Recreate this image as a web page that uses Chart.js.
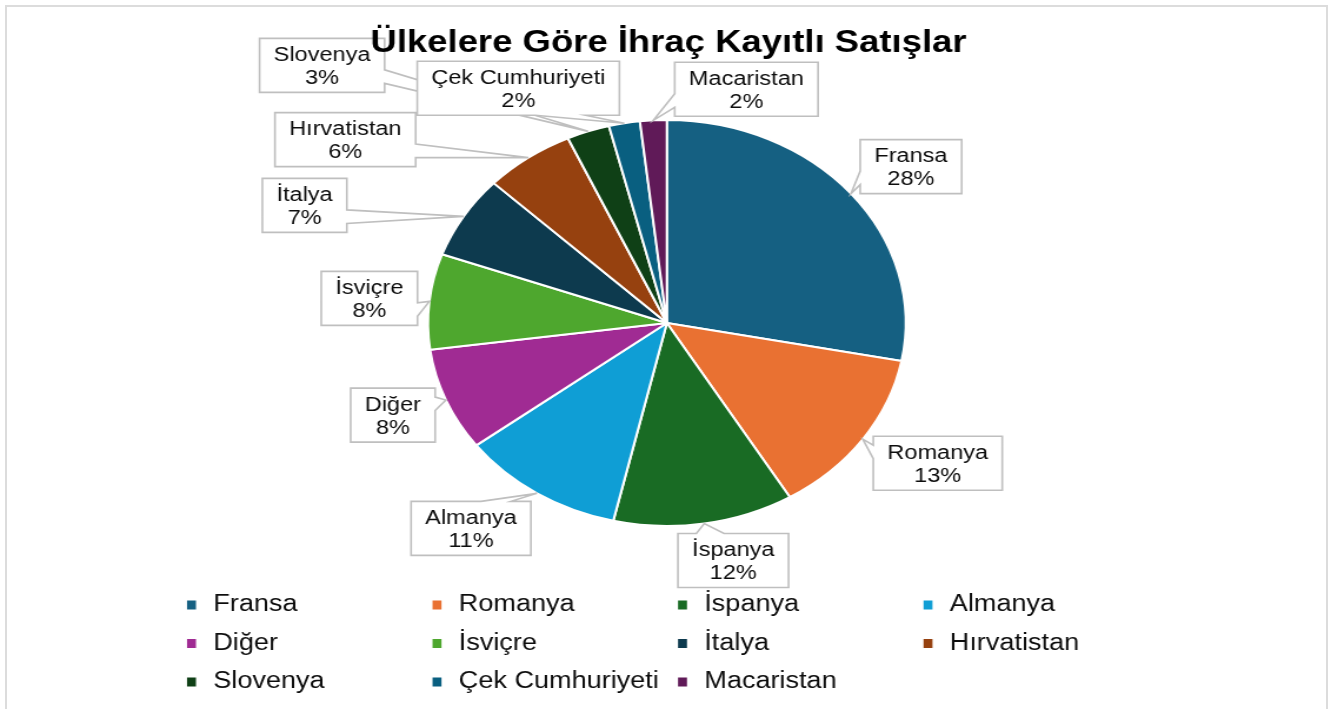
<!DOCTYPE html>
<html>
<head>
<meta charset="utf-8">
<script src="https://cdn.jsdelivr.net/npm/chart.js"></script>
<style>
  html, body { margin: 0; padding: 0; background: #fff; overflow: hidden; }
  #wrap { position: relative; width: 1338px; height: 709px; }
  #frame { position: absolute; left: 5px; top: 5px; width: 1319px; height: 720px;
           border: 2px solid #dcdcdc; border-bottom: none; }
  #chart { position: absolute; left: 0; top: 0; }
</style>
</head>
<body>
<div id="wrap">
  <div id="frame"></div>
  <canvas id="chart" width="1137" height="709" style="width:1338px;height:709px"></canvas>
</div>
<script>
(function () {
  'use strict';

  var title = 'Ülkelere Göre İhraç Kayıtlı Satışlar';
  var countries = ['Fransa', 'Romanya', 'İspanya', 'Almanya', 'Diğer', 'İsviçre',
    'İtalya', 'Hırvatistan', 'Slovenya', 'Çek Cumhuriyeti', 'Macaristan'];
  var shares = [28, 13.4, 12.2, 11.1, 8.2, 7.6, 6.6, 6.1, 2.9, 2.1, 1.8];
  var colors = ['#156082', '#E97132', '#196B24', '#0F9ED5', '#A02B93', '#4EA72E',
    '#0D3A4E', '#96410F', '#0F4016', '#095F80', '#601A58'];

  // where each callout box sits relative to its slice tip (picture px)
  var calloutOffsets = [[60, -27], [75, 24], [29, 37], [-66, 35], [-53, 15], [-60, -3],
    [-159, -11], [-183, -18], [-266, -66], [-106, -35], [93, -31]];

  // the picture is stretched horizontally; draw narrow, let css widen it
  var S = 1338 / 1137;
  var FONT = '"Liberation Sans", Arial, sans-serif';
  var total = shares.reduce(function (a, b) { return a + b; }, 0);

  function wedgePath(ctx, l, t, w, h, px, py) {
    var dx = px - (l + w / 2);
    var dy = py - (t + h / 2);
    var dz = Math.abs(dy) - Math.abs(dx * h / w);
    var x1 = l + w * (dx > 0 ? 7 : 2) / 12;
    var x2 = l + w * (dx > 0 ? 10 : 5) / 12;
    var y1 = t + h * (dy > 0 ? 7 : 2) / 12;
    var y2 = t + h * (dy > 0 ? 10 : 5) / 12;
    var r = l + w;
    var b = t + h;
    ctx.beginPath();
    ctx.moveTo(l, t);
    if (dz > 0 && dy < 0) { ctx.lineTo(x1, t); ctx.lineTo(px, py); ctx.lineTo(x2, t); }
    ctx.lineTo(r, t);
    if (dz <= 0 && dx > 0) { ctx.lineTo(r, y1); ctx.lineTo(px, py); ctx.lineTo(r, y2); }
    ctx.lineTo(r, b);
    if (dz > 0 && dy > 0) { ctx.lineTo(x2, b); ctx.lineTo(px, py); ctx.lineTo(x1, b); }
    ctx.lineTo(l, b);
    if (dz <= 0 && dx < 0) { ctx.lineTo(l, y2); ctx.lineTo(px, py); ctx.lineTo(l, y1); }
    ctx.closePath();
  }

  var calloutPlugin = {
    id: 'callouts',
    afterDatasetsDraw: function (chart) {
      var ctx = chart.ctx;
      var meta = chart.getDatasetMeta(0);
      ctx.save();
      ctx.font = '20px ' + FONT;
      ctx.textAlign = 'center';
      ctx.textBaseline = 'middle';
      meta.data.forEach(function (arc, i) {
        var p = arc.getProps(['x', 'y', 'startAngle', 'endAngle', 'outerRadius'], true);
        var mid = (p.startAngle + p.endAngle) / 2;
        var tx = p.x + Math.cos(mid) * p.outerRadius;
        var ty = p.y + Math.sin(mid) * p.outerRadius;
        var name = countries[i];
        var pct = Math.round(shares[i] / total * 100) + '%';
        var w = Math.max(ctx.measureText(name).width, ctx.measureText(pct).width) + 24;
        var h = 54;
        var cx = tx + calloutOffsets[i][0] / S;
        var cy = ty + calloutOffsets[i][1];
        wedgePath(ctx, cx - w / 2, cy - h / 2, w, h, tx, ty);
        ctx.fillStyle = '#ffffff';
        ctx.fill();
        ctx.strokeStyle = '#bfbfbf';
        ctx.lineWidth = 1.6;
        ctx.stroke();
        ctx.fillStyle = '#0d0d0d';
        ctx.fillText(name, cx, cy - 10);
        ctx.fillText(pct, cx, cy + 13);
      });
      ctx.restore();
    }
  };

  var legendPlugin = {
    id: 'gridLegend',
    afterDraw: function (chart) {
      var ctx = chart.ctx;
      ctx.save();
      ctx.fillStyle = '#000000';
      ctx.font = 'bold 31px ' + FONT;
      ctx.textAlign = 'center';
      ctx.textBaseline = 'alphabetic';
      ctx.fillText(title, 668.5 / S, 52);

      ctx.font = '23px ' + FONT;
      ctx.textAlign = 'left';
      ctx.textBaseline = 'middle';
      countries.forEach(function (name, i) {
        var col = i % 4;
        var row = Math.floor(i / 4);
        var mx = (191.5 + col * 245.5) / S;
        var my = 605 + row * 38.5;
        ctx.fillStyle = colors[i];
        ctx.fillRect(mx - 3.8, my - 4.5, 7.6, 9);
        ctx.fillStyle = '#0d0d0d';
        ctx.fillText(name, mx + 18.5, my);
      });
      ctx.restore();
    }
  };

  new Chart(document.getElementById('chart'), {
    type: 'pie',
    data: {
      labels: countries,
      datasets: [{
        data: shares,
        backgroundColor: colors,
        borderColor: '#ffffff',
        borderWidth: 2,
        hoverOffset: 0,
        offset: 0
      }]
    },
    options: {
      responsive: false,
      animation: false,
      events: [],
      layout: { padding: { left: 362.7, right: 366.3, top: 119, bottom: 182 } },
      plugins: {
        legend: { display: false },
        tooltip: { enabled: false },
        title: { display: false }
      }
    },
    plugins: [calloutPlugin, legendPlugin]
  });
})();
</script>
</body>
</html>
